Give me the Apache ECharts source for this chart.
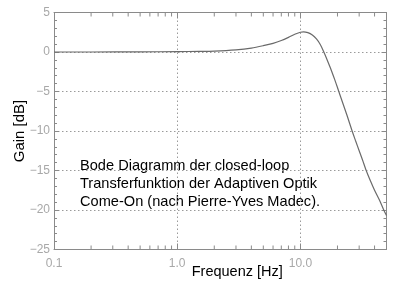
<!DOCTYPE html>
<html><head><meta charset="utf-8">
<script src="https://cdn.jsdelivr.net/npm/echarts@6/dist/echarts.min.js"></script>
<style>html,body{margin:0;padding:0;background:#fff}#c{width:400px;height:287px}</style>
</head><body><div id="c"></div>
<script>
const freq = [0.1, 0.2, 0.5, 1, 1.5, 2, 3, 4, 5, 6, 7, 8, 9, 10, 10.6, 11.5, 12.5, 13.5, 14.5, 15.5, 16.5, 17.5, 18.5, 19.5, 20.5, 22, 24, 26.3, 28, 30, 32, 34.2, 37, 40, 44, 47.5, 50];
const gain = [0, 0, 0.02, 0.05, 0.08, 0.12, 0.28, 0.5, 0.8, 1.1, 1.45, 1.85, 2.25, 2.5, 2.56, 2.45, 2.15, 1.65, 0.95, 0, -1.0, -2.0, -3.0, -4.0, -5.0, -6.4, -8.1, -10, -11.2, -12.5, -13.7, -15, -16.3, -17.5, -18.8, -20, -20.7];
const xTickLabels = ['0.1', '1.0', '10.0'];
const xMinorTicks = [0.2,0.3,0.4,0.5,0.6,0.7,0.8,0.9,2,3,4,5,6,7,8,9,20,30,40];
const note = ['Bode Diagramm der closed-loop', 'Transferfunktion der Adaptiven Optik', 'Come-On (nach Pierre-Yves Madec).'];

const gray = '#8a8a8a';
const chart = echarts.init(document.getElementById('c'), null, {renderer: 'canvas'});
const labelMap = {0.1: xTickLabels[0], 1: xTickLabels[1], 10: xTickLabels[2]};
const yAxisBase = {
  type: 'value', min: -25, max: 5, interval: 5,
  axisLine: {show: true, lineStyle: {color: gray, width: 1}},
  axisTick: {show: true, inside: true, length: 5, lineStyle: {color: gray}},
  minorTick: {show: true, splitNumber: 5, length: 3, lineStyle: {color: gray}},
  splitLine: {show: false}
};
const xAxisBase = {
  type: 'log', logBase: 10, min: 0.1, max: 50, interval: 1,
  axisLine: {show: true, onZero: false, lineStyle: {color: gray}},
  axisTick: {show: true, inside: true, length: 6, lineStyle: {color: gray}},
  splitLine: {show: false}
};
chart.setOption({
  animation: false,
  grid: {left: 54, top: 12.5, right: 13.5, bottom: 37.5, show: false, containLabel: false, outerBoundsMode: 'none'},
  xAxis: [Object.assign({}, xAxisBase, {
    axisLabel: {color: '#a8a8a8', fontSize: 12, fontFamily: 'Liberation Sans', margin: 8,
      formatter: v => labelMap[Math.round(v*10)/10] || ''},
    splitLine: {show: true, lineStyle: {color: '#9a9a9a', type: [1.5, 2.5], width: 1}},
    name: 'Frequenz [Hz]', nameLocation: 'middle', nameGap: 15, nameMoveOverlap: false,
    nameTextStyle: {color: '#000', fontSize: 14.5, fontFamily: 'Liberation Sans', padding: [0, 0, 0, 34]}
  }), Object.assign({}, xAxisBase, {position: 'top', axisLabel: {show: false}})],
  yAxis: [Object.assign({}, yAxisBase, {
    axisLabel: {color: '#a8a8a8', fontSize: 12, fontFamily: 'Liberation Sans', margin: 4,
      formatter: v => (v < 0 ? '\u2212' + (-v) : String(v))},
    splitLine: {show: true, lineStyle: {color: '#9a9a9a', type: [1.5, 2.5], width: 1}},
    name: 'Gain [dB]', nameLocation: 'middle', nameGap: 27, nameRotate: 90, nameMoveOverlap: false,
    nameTextStyle: {color: '#000', fontSize: 15, fontFamily: 'Liberation Sans'}
  }), Object.assign({}, yAxisBase, {position: 'right', axisLabel: {show: false}})],
  series: [{
    type: 'line', xAxisIndex: 0, yAxisIndex: 0,
    data: freq.map((f, i) => [f, gain[i]]),
    showSymbol: false, smooth: 0.3,
    lineStyle: {color: '#6a6a6a', width: 1.2}, z: 5
  }, {
    type: 'custom', xAxisIndex: 0, yAxisIndex: 0,
    data: xMinorTicks.map(v => [v]),
    renderItem: (params, api) => {
      const v = api.value(0);
      const b = api.coord([v, -25]);
      const t = api.coord([v, 5]);
      return {type: 'group', children: [
        {type: 'line', shape: {x1: b[0], y1: b[1], x2: b[0], y2: b[1] - 4}, style: {stroke: gray, lineWidth: 1}},
        {type: 'line', shape: {x1: t[0], y1: t[1], x2: t[0], y2: t[1] + 4}, style: {stroke: gray, lineWidth: 1}}
      ]};
    }, z: 4
  }],
  graphic: [{
    type: 'text', left: 80, top: 157,
    style: {text: note.join('\n'), fill: '#000', font: '14.6px "Liberation Sans"', lineHeight: 18}
  }]
});
</script></body></html>
